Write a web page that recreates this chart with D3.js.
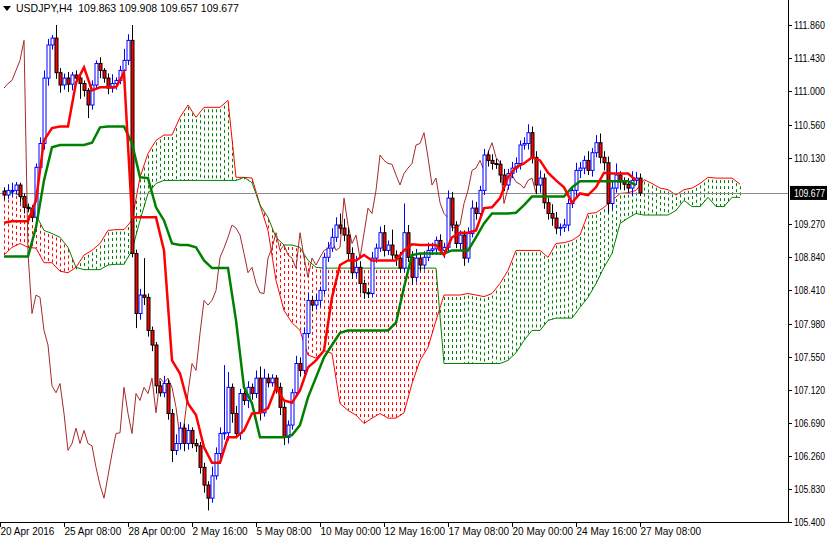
<!DOCTYPE html>
<html><head><meta charset="utf-8">
<script src="https://cdn.jsdelivr.net/npm/d3@7"></script>
<style>body{margin:0;background:#fff}svg{display:block}</style>
</head><body>
<svg id="c" width="827" height="538"></svg>
<script>
const title = "USDJPY,H4  109.863 109.908 109.657 109.677";
const lastPrice = 109.677;
const priceTicks = [111.860,111.430,111.000,110.560,110.130,109.700,109.270,108.840,108.410,107.980,107.550,107.120,106.690,106.260,105.830,105.400];
const dateLabels = ["20 Apr 2016","25 Apr 08:00","28 Apr 00:00","2 May 16:00","5 May 08:00","10 May 00:00","12 May 16:00","17 May 08:00","20 May 00:00","24 May 16:00","27 May 08:00"];
const dateBars = [-1,15,31,47,63,79,95,111,127,143,159];
const firstOpen = 109.70;
const closes = [109.65,109.71,109.71,109.78,109.63,109.49,109.48,109.36,110.01,110.32,
111.17,111.60,111.69,111.24,111.08,111.17,111.09,111.21,111.17,111.10,
111.01,110.82,111.08,111.36,111.27,111.17,111.04,111.10,111.14,111.27,
111.40,111.66,108.89,108.11,108.35,108.32,107.89,107.70,107.17,107.08,
107.20,106.81,106.33,106.42,106.62,106.42,106.59,106.42,106.39,106.11,
105.88,105.71,106.00,106.29,106.55,106.56,107.15,106.81,106.55,107.07,
106.98,107.15,107.07,107.27,106.82,107.27,107.21,107.27,107.15,106.89,
106.50,106.66,107.08,107.46,107.37,107.85,108.28,108.22,108.28,108.41,
108.84,108.96,109.10,109.26,109.22,109.13,108.89,108.64,108.71,108.50,
108.38,108.37,108.83,108.96,109.16,108.93,109.00,108.87,108.83,108.70,
109.16,108.84,108.58,108.83,108.74,108.84,108.93,108.95,109.06,108.93,
108.97,109.61,109.26,109.02,109.13,108.83,109.15,109.48,109.41,109.71,
110.17,110.10,110.06,110.05,109.91,109.78,109.93,110.00,110.06,110.30,
110.32,110.46,110.14,109.78,109.87,109.55,109.41,109.35,109.22,109.23,
109.26,109.54,109.71,109.97,110.00,110.10,109.97,110.20,110.33,110.14,
110.07,109.54,109.74,109.91,109.82,109.79,109.74,109.84,109.87,109.677];
// upper / lower wick lengths (hundredths of a yen)
const upperWick = [5,8,10,4,3,4,5,4,5,8, 10,8,4,17,6,6,8,4,6,3, 4,3,6,4,8,3,6,12,4,6, 15,8,20,5,8,48,5,5,4,6,
10,5,6,12,8,6,8,4,6,5, 6,5,12,8,8,88,20,5,10,6, 10,8,5,10,15,12,6,5,4,6, 8,6,5,10,8,8,10,6,8,5,
6,8,12,10,15,12,10,8,15,8, 5,6,8,6,8,10,6,20,6,8, 38,10,8,12,6,8,10,8,5,8, 6,10,8,5,6,6,8,10,8,6,
8,6,8,6,5,8,6,8,8,6, 8,11,8,8,10,6,6,12,8,5, 8,6,5,10,8,6,12,6,10,12, 8,8,10,15,5,6,8,12,8,6];
const lowerWick = [6,5,8,5,8,8,5,6,5,6, 8,10,6,8,10,6,10,8,6,20, 8,17,6,5,10,6,8,6,8,5, 5,6,5,19,8,10,8,8,10,5,
6,8,15,6,8,10,8,6,8,8, 10,16,6,5,10,8,10,12,6,8, 6,10,8,6,10,5,6,5,8,10, 10,8,6,5,8,5,6,8,6,8,
5,6,5,6,8,8,10,8,6,13, 8,6,5,6,5,8,6,8,10,6, 5,6,10,6,8,6,5,6,8,6, 10,6,8,6,8,10,6,5,8,6,
6,8,8,6,10,8,6,6,6,8, 6,8,8,12,10,8,8,10,8,10, 6,8,6,8,10,8,6,8,6,8, 10,12,8,6,10,8,6,10,6,4];
// Ichimoku lines, sampled every 2 bars (bar 0,2,4,...)
const tenkan = [109.29,109.31,109.31,109.31,109.58,110.36,110.52,110.54,110.54,111.11,
111.31,111.01,111.05,111.05,111.05,111.24,109.36,109.36,109.36,109.36,
108.93,107.50,107.33,106.94,106.79,106.37,106.17,106.17,106.50,106.50,
106.59,106.81,106.82,106.88,107.15,106.98,106.95,107.11,107.41,107.50,
107.63,108.32,108.74,108.80,108.80,108.87,108.80,108.80,108.80,108.80,
108.93,109.01,109.00,109.00,109.00,108.87,109.10,109.16,109.16,109.19,
109.48,109.49,109.61,109.88,110.01,110.06,110.14,110.10,109.94,109.84,
109.75,109.55,109.67,109.65,109.75,109.94,109.93,109.93,109.93,109.84];
const kijun = [108.85,108.85,108.85,108.85,109.23,109.84,110.27,110.30,110.30,110.30,
110.30,110.33,110.53,110.54,110.54,110.54,110.32,109.88,109.87,109.49,
109.32,109.02,109.00,109.00,108.97,108.80,108.70,108.70,108.70,108.02,
107.15,106.94,106.50,106.50,106.50,106.50,106.53,106.66,107.02,107.28,
107.54,107.70,107.86,107.89,107.89,107.89,107.89,107.89,107.89,107.99,
108.45,108.87,108.89,108.89,108.89,108.89,108.93,108.93,108.93,109.10,
109.28,109.41,109.41,109.41,109.42,109.52,109.63,109.63,109.63,109.63,
109.63,109.75,109.83,109.83,109.83,109.83,109.83,109.83,109.83,109.78];
const senkouA = [108.87,108.97,109.02,108.97,108.96,108.77,108.77,108.66,108.64,108.71,
108.87,108.93,109.02,109.19,109.20,109.20,109.32,109.88,110.19,110.36,
110.43,110.43,110.66,110.82,110.66,110.79,110.79,110.79,110.88,109.88,
109.88,109.87,109.52,109.19,108.54,108.15,107.99,107.89,107.57,107.53,
107.63,107.59,106.94,106.85,106.79,106.68,106.75,106.81,106.75,106.75,
106.82,107.20,107.50,107.67,108.02,108.35,108.35,108.35,108.37,108.35,
108.33,108.37,108.50,108.67,108.93,108.93,108.93,108.93,108.84,109.02,
109.03,109.06,109.13,109.41,109.42,109.49,109.58,109.67,109.68,109.71,
109.85,109.80,109.74,109.72,109.65,109.72,109.74,109.80,109.88,109.87,
109.87,109.87,109.79];
const senkouB = [109.71,109.68,109.65,109.49,109.39,109.19,109.15,109.10,108.97,108.71,
108.68,108.68,108.68,108.74,108.75,108.75,108.93,109.32,109.67,109.80,
109.84,109.84,109.84,109.84,109.84,109.84,109.84,109.84,109.84,109.84,
109.88,109.81,109.52,109.36,109.10,109.00,109.00,108.97,108.80,108.71,
108.70,108.70,108.70,108.70,108.70,108.70,108.70,108.70,108.70,108.70,
108.70,108.70,108.70,108.70,108.70,107.46,107.46,107.46,107.46,107.46,
107.46,107.46,107.46,107.50,107.60,107.76,107.89,107.89,108.02,108.05,
108.05,108.05,108.19,108.32,108.50,108.71,108.89,109.28,109.35,109.41,
109.39,109.39,109.39,109.39,109.45,109.58,109.50,109.50,109.62,109.50,
109.50,109.62,109.62];

const svg = d3.select("#c");
const W = 788, B = 522;
const x = d3.scaleLinear().domain([0,1]).range([4,8]);
const y = d3.scaleLinear().domain([105.40,111.86]).range([522,25]);
const font = "'Liberation Sans', Arial, sans-serif";
const plot = svg.append("g");
plot.append("clipPath").attr("id","cp").append("rect").attr("x",0).attr("y",0).attr("width",W).attr("height",B);
const g = plot.append("g").attr("clip-path","url(#cp)");

const spanIdx = senkouA.map((_,k)=>2*k);
const nBars = spanIdx[spanIdx.length-1];
function spanAt(arr,j){const k=j/2;const k0=Math.floor(k),k1=Math.min(arr.length-1,Math.ceil(k));return (arr[k0]+arr[k1])/2;}
for(let j=0;j<=nBars;j++){
  const a=spanAt(senkouA,j), b=spanAt(senkouB,j);
  const top=Math.max(a,b), bot=Math.min(a,b);
  g.append("line").attr("x1",Math.round(x(j))+0.5).attr("x2",Math.round(x(j))+0.5)
   .attr("y1",y(top)+2).attr("y2",y(bot))
   .attr("stroke", a>=b?"#008000":"#ff0000").attr("stroke-width",1)
   .attr("stroke-dasharray","3,3");
}
const line2 = arr => d3.line().x((d,k)=>x(2*k)).y(d=>y(d))(arr);
g.append("path").attr("d",line2(senkouA)).attr("fill","none").attr("stroke","#ff0000").attr("stroke-width",1);
g.append("path").attr("d",line2(senkouB)).attr("fill","none").attr("stroke","#008000").attr("stroke-width",1);

g.append("line").attr("x1",0).attr("x2",W).attr("y1",Math.round(y(lastPrice))+0.5).attr("y2",Math.round(y(lastPrice))+0.5).attr("stroke","#8c8c8c").attr("stroke-width",1);

const chik = closes.slice(26);
g.append("path").attr("d",d3.line().x((d,k)=>x(k)).y(d=>y(d))(chik)).attr("fill","none").attr("stroke","#a52a2a").attr("stroke-width",1);

closes.forEach((c,i)=>{
  const o = i===0?firstOpen:closes[i-1];
  const up = c>=o;
  const hi = Math.max(o,c)+upperWick[i]/100, lo = Math.min(o,c)-lowerWick[i]/100;
  const cx = Math.round(x(i))+0.5;
  g.append("line").attr("x1",cx).attr("x2",cx).attr("y1",y(hi)).attr("y2",y(lo)).attr("stroke",up?"#0000ff":"#000");
  const t=y(Math.max(o,c)), h=Math.max(1,y(Math.min(o,c))-t);
  g.append("rect").attr("x",cx-1.5).attr("y",t).attr("width",3).attr("height",h)
   .attr("fill",up?"#fff":"#ff0000").attr("stroke",up?"#0000ff":"#000").attr("stroke-width",1);
});

g.append("path").attr("d",line2(kijun)).attr("fill","none").attr("stroke","#008000").attr("stroke-width",2.5);
g.append("path").attr("d",line2(tenkan)).attr("fill","none").attr("stroke","#ff0000").attr("stroke-width",2.5);

svg.append("line").attr("x1",W+0.5).attr("x2",W+0.5).attr("y1",0).attr("y2",B).attr("stroke","#000");
svg.append("line").attr("x1",0).attr("x2",W+0.5).attr("y1",B+0.5).attr("y2",B+0.5).attr("stroke","#000");
priceTicks.forEach(p=>{
  if(Math.abs(y(p)-y(lastPrice))<8) return;
  svg.append("line").attr("x1",W).attr("x2",W+4).attr("y1",Math.round(y(p))+0.5).attr("y2",Math.round(y(p))+0.5).attr("stroke","#000");
  svg.append("text").attr("x",W+6).attr("y",y(p)+4).text(p.toFixed(3)).attr("font-family",font).attr("font-size",10)
    .attr("textLength",31).attr("lengthAdjust","spacingAndGlyphs").attr("fill","#000");
});
svg.append("rect").attr("x",W+2).attr("y",y(lastPrice)-7).attr("width",827-W-2).attr("height",14).attr("fill","#000");
svg.append("text").attr("x",W+6).attr("y",y(lastPrice)+4).text(lastPrice.toFixed(3)).attr("font-family",font).attr("font-size",10)
  .attr("textLength",31).attr("lengthAdjust","spacingAndGlyphs").attr("fill","#fff");
dateLabels.forEach((d,k)=>{
  const tx = Math.max(0.5,Math.round(x(dateBars[k]))+0.5);
  svg.append("line").attr("x1",tx).attr("x2",tx).attr("y1",B).attr("y2",B+5).attr("stroke","#000");
  svg.append("text").attr("x",tx).attr("y",B+13).text(d).attr("font-family",font).attr("font-size",10).attr("fill","#000");
});
svg.append("path").attr("d","M3,6 L11,6 L7,11 Z").attr("fill","#000");
svg.append("text").attr("x",16).attr("y",12).text(title).attr("font-family",font).attr("font-size",10.5).attr("fill","#000").style("white-space","pre");
</script>
</body></html>
